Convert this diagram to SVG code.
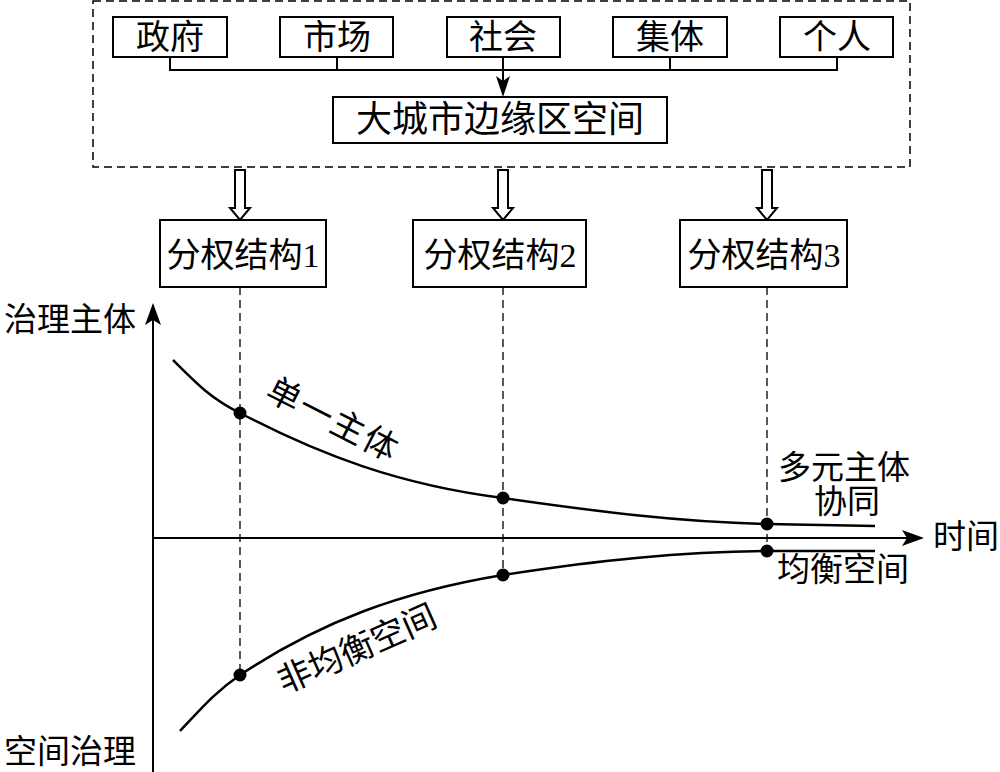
<svg xmlns="http://www.w3.org/2000/svg" width="1000" height="772" viewBox="0 0 1000 772">
<defs>
<style>
.box{fill:#fff;stroke:#000;stroke-width:2}
.t{font-family:"Liberation Serif","Noto Sans CJK SC",serif;fill:#000;text-anchor:middle;dominant-baseline:central}
.ln{fill:none;stroke:#000;stroke-width:2}
.dash{fill:none;stroke:#000;stroke-width:1.3;stroke-dasharray:8,5}
.cur{fill:none;stroke:#000;stroke-width:2.5}
.hollow{fill:#fff;stroke:#000;stroke-width:2}
</style>
<marker id="ax" markerWidth="22" markerHeight="16" refX="20" refY="8" orient="auto" markerUnits="userSpaceOnUse" viewBox="0 0 22 16">
<path d="M0,0 L22,8 L0,16 L5,8 Z" fill="#000"/>
</marker>
</defs>
<rect width="1000" height="772" fill="#fff"/>

<rect x="93" y="1" width="817" height="166" fill="none" stroke="#000" stroke-width="1.5" stroke-dasharray="8,5"/>

<g id="connectors">
<path class="ln" d="M170,57 V70 H837 V57 M337,57 V70 M670,57 V70"/>
<path class="ln" d="M503,57 V84" stroke-width="2.5"/>
<path d="M496,76 L503,97 L510,76 L503,81 Z" fill="#000"/>
<path class="hollow" d="M235,170 H245 V208 H250 L240,220 L230,208 H235 Z"/>
<path class="hollow" d="M498,170 H508 V208 H513 L503,220 L493,208 H498 Z"/>
<path class="hollow" d="M762,170 H772 V208 H777 L767,220 L757,208 H762 Z"/>
<path class="dash" d="M240,287 V675 M503,287 V575 M767,287 V551"/>
</g>

<g id="zhengfu"><rect class="box" x="113" y="17" width="114" height="40"/><text class="t" x="170" y="37" font-size="34">政府</text></g>
<g id="shichang"><rect class="box" x="280" y="17" width="113" height="40"/><text class="t" x="337" y="37" font-size="34">市场</text></g>
<g id="shehui"><rect class="box" x="447" y="17" width="113" height="40"/><text class="t" x="503" y="37" font-size="34">社会</text></g>
<g id="jiti"><rect class="box" x="613" y="17" width="114" height="40"/><text class="t" x="670" y="37" font-size="34">集体</text></g>
<g id="geren"><rect class="box" x="780" y="17" width="113" height="40"/><text class="t" x="837" y="37" font-size="34">个人</text></g>
<g id="kongjian"><rect class="box" x="333" y="97" width="334" height="46"/><text class="t" x="500" y="120" font-size="36">大城市边缘区空间</text></g>

<g id="fq1"><rect class="box" x="160" y="220" width="166" height="67"/><text class="t" x="243" y="255" font-size="34">分权结构1</text></g>
<g id="fq2"><rect class="box" x="413" y="220" width="173" height="67"/><text class="t" x="500" y="255" font-size="34">分权结构2</text></g>
<g id="fq3"><rect class="box" x="680" y="220" width="167" height="67"/><text class="t" x="764" y="255" font-size="34">分权结构3</text></g>

<g id="axes">
<path class="ln" d="M153,772 V305" stroke-width="2.5" marker-end="url(#ax)"/>
<path class="ln" d="M153,538 H922" stroke-width="2.5" marker-end="url(#ax)"/>
<text class="t" x="70" y="320" font-size="33">治理主体</text>
<text class="t" x="70" y="752" font-size="33">空间治理</text>
<text class="t" x="966" y="537" font-size="33">时间</text>
</g>

<g id="upper">
<path class="cur" d="M173,360 C195,382 210,398 240,413 C320,455 400,485 503,498 C600,512 680,522 767,524 L875,526"/>
<circle cx="240" cy="413" r="6.5"/>
<circle cx="503" cy="498" r="6.5"/>
<circle cx="767" cy="524" r="6.5"/>
<text class="t" x="333" y="420" font-size="34" letter-spacing="2" transform="rotate(27 333 420)">单一主体</text>
<text class="t" x="844" y="468" font-size="33">多元主体</text>
<text class="t" x="847" y="502" font-size="33">协同</text>
</g>

<g id="lower">
<path class="cur" d="M180,731 C200,710 215,692 240,675 C320,622 400,592 503,575 C600,560 680,552 767,551 L875,551"/>
<circle cx="240" cy="675" r="6.5"/>
<circle cx="503" cy="575" r="6.5"/>
<circle cx="767" cy="551" r="6.5"/>
<text class="t" x="357" y="649" font-size="34" transform="rotate(-24 357 649)">非均衡空间</text>
<text class="t" x="843" y="570" font-size="33">均衡空间</text>
</g>
</svg>
